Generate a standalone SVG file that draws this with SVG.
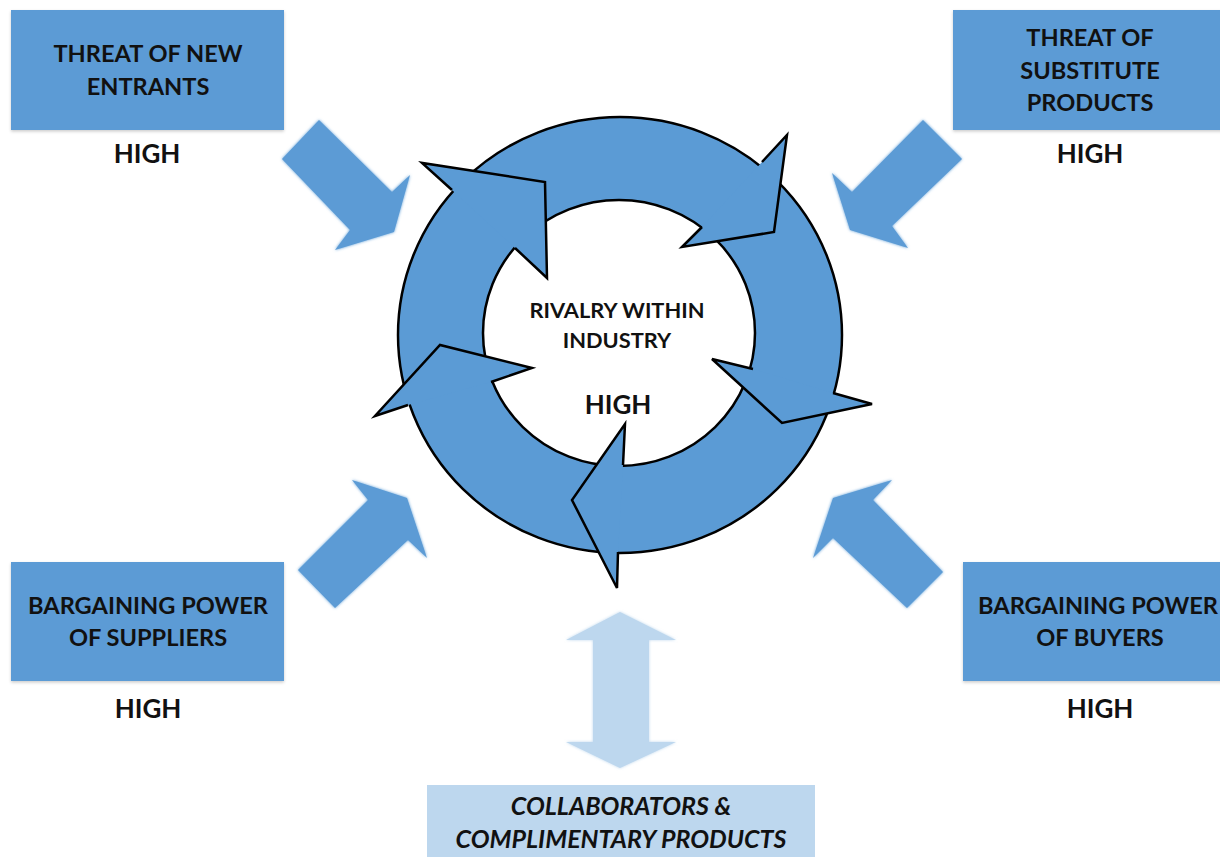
<svg xmlns="http://www.w3.org/2000/svg" width="1220" height="857" viewBox="0 0 1220 857">
  <defs>
    <style>
      .box { fill: #5B9BD5; }
      .lbox { fill: #BDD7EE; }
      .lbl { font-family: Lato, "Open Sans", "Liberation Sans", sans-serif; font-weight: bold; font-size: 23.6px; fill: #111; text-anchor: middle; }
      .high { font-family: Lato, "Open Sans", "Liberation Sans", sans-serif; font-weight: bold; font-size: 26px; fill: #111; text-anchor: middle; }
      .ctr { font-family: Lato, "Open Sans", "Liberation Sans", sans-serif; font-weight: bold; font-size: 21.8px; fill: #111; text-anchor: middle; }
      .ital { font-family: Lato, "Open Sans", "Liberation Sans", sans-serif; font-weight: bold; font-style: italic; font-size: 25px; fill: #111; text-anchor: middle; }
      .blk { fill: #5B9BD5; filter: url(#soft); }
      .lblk { fill: #BDD7EE; filter: url(#soft); }
      .ring { fill: #5B9BD5; stroke: #000; stroke-width: 2.5; stroke-linejoin: miter; }
    </style>
    <filter id="soft" x="-10%" y="-10%" width="120%" height="120%">
      <feGaussianBlur in="SourceGraphic" stdDeviation="1.6" result="b"/>
      <feMerge><feMergeNode in="b"/><feMergeNode in="SourceGraphic"/></feMerge>
    </filter>
    <filter id="shadow" x="-5%" y="-5%" width="110%" height="115%">
      <feDropShadow dx="0" dy="1.5" stdDeviation="1.5" flood-color="#000" flood-opacity="0.2"/>
    </filter>
  </defs>

  <rect width="1220" height="857" fill="#fff"/>

  <g id="connectors">
    <polygon class="blk" points="319,120 392,192 410,175 394,232 335,250 350,230 282,159"/>
    <polygon class="blk" points="923,120 962,159 892,226 908,248 850,230 832,173 852,192"/>
    <polygon class="blk" points="298,570 335,608 408,540 427,558 407,498 352,480 368,500"/>
    <polygon class="blk" points="943,572 907,608 833,538 813,558 833,498 892,480 873,500"/>
    <polygon class="lblk" points="620,612 676,640 649,640 649,742 676,742 620,768 566,742 593,742 593,640 566,640"/>
  </g>

  <g id="rivalry">
    <path class="ring" fill-rule="evenodd" d="M398,335 A222,218 0 1 0 842,335 A222,218 0 1 0 398,335 Z M483,333 A136,133 0 1 1 755,333 A136,133 0 1 1 483,333 Z"/>
    <path class="ring" d="M452,190 L422,163 L545,182 L547,278 L515,248"/>
    <path class="ring" d="M762,162 L787,135 L774,232 L682,247 L702,227"/>
    <path class="ring" d="M833,393 L872,404 L782,423 L712,359 L753,369"/>
    <path class="ring" d="M618,552 L617,588 L572,500 L625,424 L623,465"/>
    <path class="ring" d="M408,405 L375,416 L440,345 L532,368 L491,382"/>
    <text class="ctr" x="617" y="318">RIVALRY WITHIN</text>
    <text class="ctr" x="617" y="348">INDUSTRY</text>
    <text class="high" x="618" y="414">HIGH</text>
  </g>

  <g id="new-entrants">
    <rect class="box" x="11" y="10" width="273" height="120" filter="url(#shadow)"/>
    <text class="lbl" x="148" y="62">THREAT OF NEW</text>
    <text class="lbl" x="148" y="95">ENTRANTS</text>
    <text class="high" x="147" y="163">HIGH</text>
  </g>

  <g id="substitutes">
    <rect class="box" x="953" y="10" width="280" height="120" filter="url(#shadow)"/>
    <text class="lbl" x="1090" y="46">THREAT OF</text>
    <text class="lbl" x="1090" y="79">SUBSTITUTE</text>
    <text class="lbl" x="1090" y="111">PRODUCTS</text>
    <text class="high" x="1090" y="163">HIGH</text>
  </g>

  <g id="suppliers">
    <rect class="box" x="11" y="562" width="273" height="119" filter="url(#shadow)"/>
    <text class="lbl" x="148" y="614">BARGAINING POWER</text>
    <text class="lbl" x="148" y="646">OF SUPPLIERS</text>
    <text class="high" x="148" y="718">HIGH</text>
  </g>

  <g id="buyers">
    <rect class="box" x="963" y="562" width="280" height="119" filter="url(#shadow)"/>
    <text class="lbl" x="1098" y="614">BARGAINING POWER</text>
    <text class="lbl" x="1100" y="646">OF BUYERS</text>
    <text class="high" x="1100" y="718">HIGH</text>
  </g>

  <g id="collaborators">
    <rect class="lbox" x="427" y="785" width="388" height="80"/>
    <text class="ital" x="621" y="815">COLLABORATORS &amp;</text>
    <text class="ital" x="621" y="848">COMPLIMENTARY PRODUCTS</text>
  </g>
</svg>
